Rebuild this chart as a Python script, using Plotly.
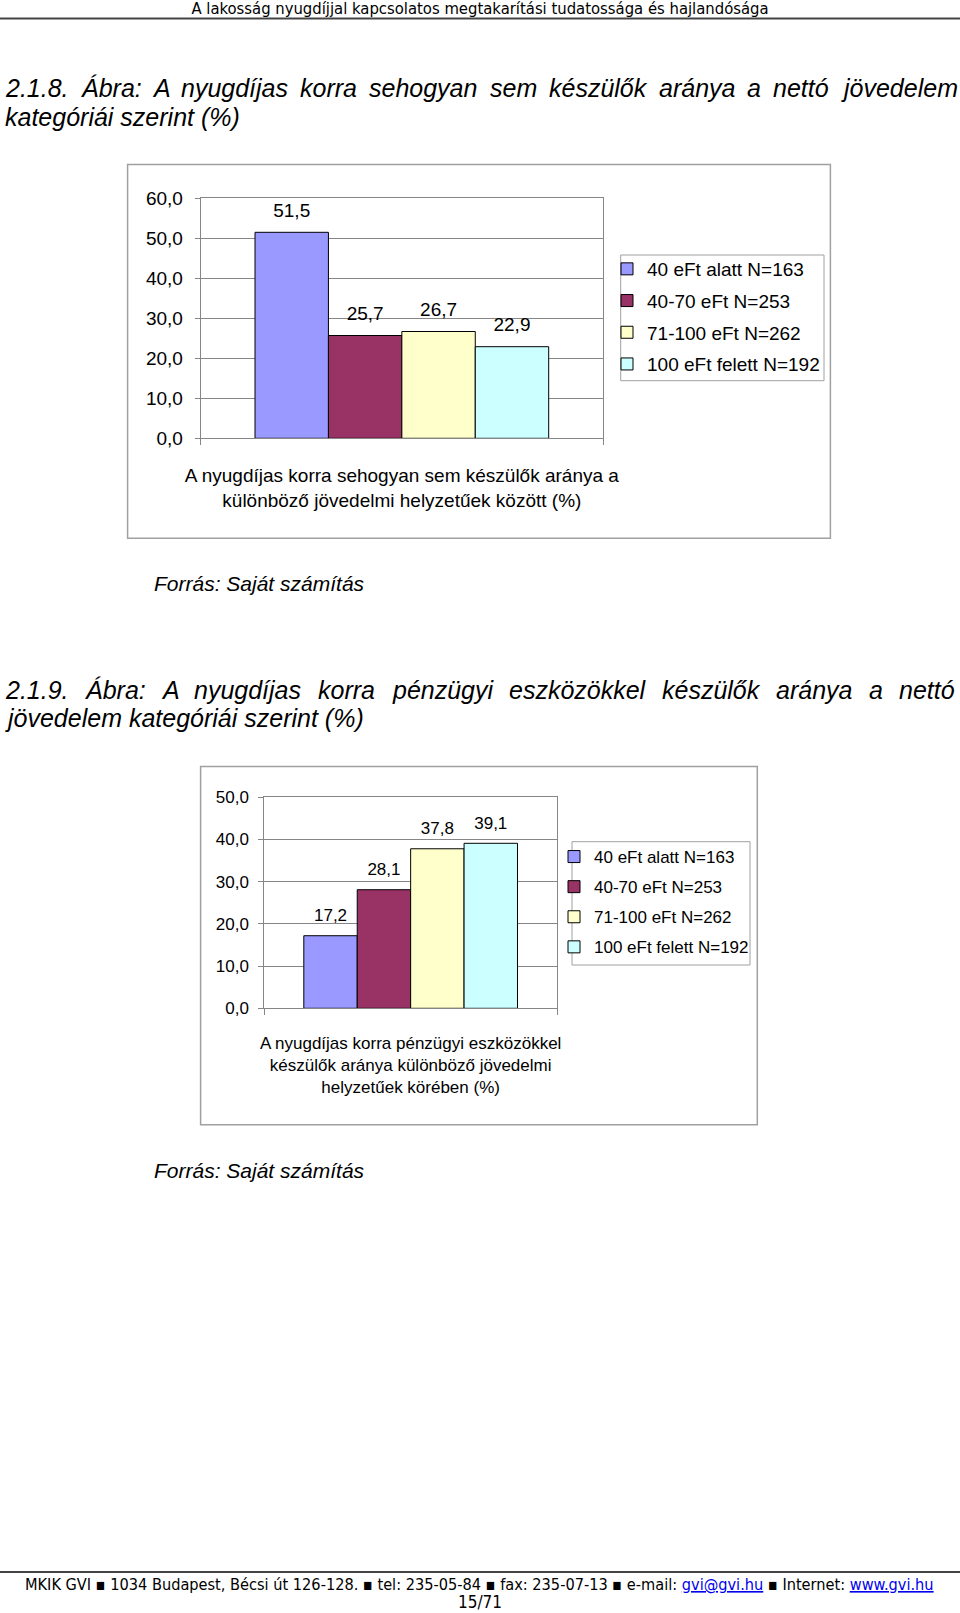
import plotly.graph_objects as go

W, H = 960, 1613


def X(p):
    return p / W


def Y(p):
    return 1 - p / H


# ---------------- data ----------------
series = ["40 eFt alatt N=163", "40-70 eFt N=253", "71-100 eFt N=262", "100 eFt felett N=192"]
colors = ["#9999FF", "#993366", "#FFFFCC", "#CCFFFF"]

cat1 = ["A nyugdíjas korra sehogyan sem készülők aránya a<br>különböző jövedelmi helyzetűek között (%)"]
vals1 = [51.5, 25.7, 26.7, 22.9]

cat2 = ["A nyugdíjas korra pénzügyi eszközökkel<br>készülők aránya különböző jövedelmi<br>helyzetűek körében (%)"]
vals2 = [17.2, 28.1, 37.8, 39.1]

header_text = "A lakosság nyugdíjjal kapcsolatos megtakarítási tudatossága és hajlandósága"
title1_line1 = ["2.1.8.", "Ábra:", "A", "nyugdíjas", "korra", "sehogyan", "sem", "készülők", "aránya", "a", "nettó", "jövedelem"]
title1_line2 = "kategóriái szerint (%)"
title2_line1 = ["2.1.9.", "Ábra:", "A", "nyugdíjas", "korra", "pénzügyi", "eszközökkel", "készülők", "aránya", "a", "nettó"]
title2_line2 = "jövedelem kategóriái szerint (%)"
source_text = "Forrás: Saját számítás"
footer_text = ("MKIK GVI ▪ 1034 Budapest, Bécsi út 126-128. ▪ tel: 235-05-84 ▪ fax: 235-07-13 ▪ e-mail: "
               "<span style='color:#0000EE'><u>gvi@gvi.hu</u></span> ▪ Internet: "
               "<span style='color:#0000EE'><u>www.gvi.hu</u></span>")
page_text = "15/71"

# ---------------- layout constants ----------------
FONT = "Liberation Sans, Arial, Helvetica, sans-serif"
NARROW = "DejaVu Sans Condensed, Liberation Sans Narrow, Arial Narrow, sans-serif"
GRAY = "#868686"
F1, F2 = 19, 17
HF = 25  # heading font size

# Arial / Liberation Sans advance widths (per 1000 em) for justified heading lines
AW = {c: 556 for c in "0123456789abdeghnopquáéóöőüűú"}
AW.update({".": 278, ":": 278, " ": 278, "A": 667, "Á": 667, "i": 222, "í": 278, "j": 222,
           "k": 500, "l": 222, "m": 833, "r": 333, "s": 500, "t": 278, "v": 500, "y": 500,
           "z": 500, "c": 500, "(": 333, ")": 333, "%": 889})


def justify(words, left, right, size):
    widths = [sum(AW.get(c, 556) for c in w) * size / 1000 for w in words]
    gap = (right - left - sum(widths)) / (len(words) - 1)
    xs, cur = [], left
    for w in widths:
        xs.append(cur)
        cur += w + gap
    return xs


fig = go.Figure()

for i, name in enumerate(series):
    fig.add_trace(go.Bar(
        x=cat1, y=[vals1[i]], name=name,
        marker=dict(color=colors[i], line=dict(color="black", width=1)),
        xaxis="x", yaxis="y", legend="legend", legendgroup=f"a{i}", hoverinfo="skip",
    ))
for i, name in enumerate(series):
    fig.add_trace(go.Bar(
        x=cat2, y=[vals2[i]], name=name,
        marker=dict(color=colors[i], line=dict(color="black", width=1)),
        xaxis="x2", yaxis="y2", legend="legend2", legendgroup=f"b{i}", hoverinfo="skip",
    ))
# value labels (grouped scatter text aligned with the grouped bars)
for i in range(len(series)):
    fig.add_trace(go.Scatter(
        x=cat1, y=[vals1[i]], mode="markers+text", texttemplate="%{y:.1f}",
        textposition="top center", marker=dict(size=16, color="rgba(0,0,0,0)"),
        textfont=dict(size=F1, color="black", family=FONT), cliponaxis=False,
        showlegend=False, hoverinfo="skip", xaxis="x", yaxis="y",
    ))
for i in range(len(series)):
    fig.add_trace(go.Scatter(
        x=cat2, y=[vals2[i]], mode="markers+text", texttemplate="%{y:.1f}",
        textposition="top center", marker=dict(size=15, color="rgba(0,0,0,0)"),
        textfont=dict(size=F2, color="black", family=FONT), cliponaxis=False,
        showlegend=False, hoverinfo="skip", xaxis="x2", yaxis="y2",
    ))


def xax(domain, anchor, fs, standoff):
    return dict(domain=domain, anchor=anchor, type="category", automargin=False,
                showline=True, mirror=True, linecolor=GRAY, linewidth=1,
                ticks="outside", tickson="boundaries", ticklen=6, tickcolor=GRAY,
                tickangle=0, tickfont=dict(size=fs, color="black", family=FONT),
                ticklabelstandoff=standoff, showgrid=False, fixedrange=True)


def yax(domain, anchor, rng, fs, standoff):
    return dict(domain=domain, anchor=anchor, range=rng, dtick=10, tick0=0, automargin=False,
                tickformat=".1f", showgrid=True, gridcolor=GRAY, gridwidth=1,
                showline=True, mirror=True, linecolor=GRAY, linewidth=1,
                ticks="outside", ticklen=5, tickcolor=GRAY, zeroline=False,
                tickfont=dict(size=fs, color="black", family=FONT),
                ticklabelstandoff=standoff, fixedrange=True)


shapes = [
    dict(type="line", xref="paper", yref="paper", x0=0, x1=1, y0=Y(18.5), y1=Y(18.5),
         line=dict(color="#444444", width=2)),
    dict(type="line", xref="paper", yref="paper", x0=0, x1=1, y0=Y(1572), y1=Y(1572),
         line=dict(color="#444444", width=2)),
    dict(type="rect", xref="paper", yref="paper", x0=X(127.6), x1=X(830.4), y0=Y(538.2), y1=Y(164.6),
         line=dict(color="#A0A0A0", width=1.5)),
    dict(type="rect", xref="paper", yref="paper", x0=X(200.6), x1=X(757.3), y0=Y(1124.7), y1=Y(766.6),
         line=dict(color="#A0A0A0", width=1.5)),
    dict(type="rect", xref="paper", yref="paper", x0=X(620.7), x1=X(824), y0=Y(380.7), y1=Y(255),
         line=dict(color="#A0A0A0", width=1)),
    dict(type="rect", xref="paper", yref="paper", x0=X(572), x1=X(750), y0=Y(965), y1=Y(841.7),
         line=dict(color="#A0A0A0", width=1)),
]

annotations = []


def ann(text, x, y, size, family=FONT, xanchor="left", yanchor="middle", italic=False):
    if italic:
        text = f"<i>{text}</i>"
    annotations.append(dict(text=text, x=X(x), y=Y(y), xref="paper", yref="paper",
                            xanchor=xanchor, yanchor=yanchor, showarrow=False,
                            font=dict(size=size, family=family, color="black")))


for w, px in zip(title1_line1, justify(title1_line1, 5, 955, HF)):
    ann(w, px - 2, 88.5, HF, italic=True)
ann(title1_line2, 3, 117.3, HF, italic=True)
ann(source_text, 152, 583.5, 21, italic=True)

for w, px in zip(title2_line1, justify(title2_line1, 5, 955, HF)):
    ann(w, px - 2, 689.5, HF, italic=True)
ann(title2_line2, 3, 718.3, HF, italic=True)
ann(source_text, 152, 1170, 21, italic=True)

ann(footer_text, 479, 1584, 16.2, family=NARROW, xanchor="center")
annotations.append(dict(text=page_text, x=0.5, y=0, xref="paper", yref="paper",
                        xanchor="center", yanchor="bottom", showarrow=False, borderpad=0,
                        font=dict(size=17, family=NARROW, color="black")))

fig.update_layout(
    width=W, height=H, autosize=False,
    margin=dict(l=0, r=0, t=0, b=0, pad=0),
    paper_bgcolor="white", plot_bgcolor="white",
    separators=", ",
    barmode="group", bargap=0.27, bargroupgap=0,
    scattermode="group", scattergap=0.27,
    font=dict(family=FONT, color="black"),
    title=dict(text=header_text, x=0.5, xref="paper", xanchor="center",
               y=Y(8.5), yref="container", yanchor="middle",
               font=dict(size=16.5, family=NARROW, color="black"), automargin=False),
    xaxis=xax([X(200.7), X(603)], "y", F1, 20),
    yaxis=yax([Y(438.3), Y(198.3)], "x", [0, 60], F1, 8),
    xaxis2=xax([X(264.3), X(557)], "y2", F2, 19),
    yaxis2=yax([Y(1008.3), Y(797.3)], "x2", [0, 50], F2, 6),
    legend=dict(x=X(607), y=Y(250), xanchor="left", yanchor="top",
                bgcolor="rgba(0,0,0,0)", borderwidth=0, tracegroupgap=4,
                font=dict(size=F1, family=FONT, color="black")),
    legend2=dict(x=X(554), y=Y(839), xanchor="left", yanchor="top",
                 bgcolor="rgba(0,0,0,0)", borderwidth=0, tracegroupgap=5,
                 font=dict(size=F2, family=FONT, color="black")),
    shapes=shapes,
    annotations=annotations,
    showlegend=True,
)

fig.write_html("out.html", config={"displayModeBar": False},
               post_script="document.body.style.margin='0px';")
